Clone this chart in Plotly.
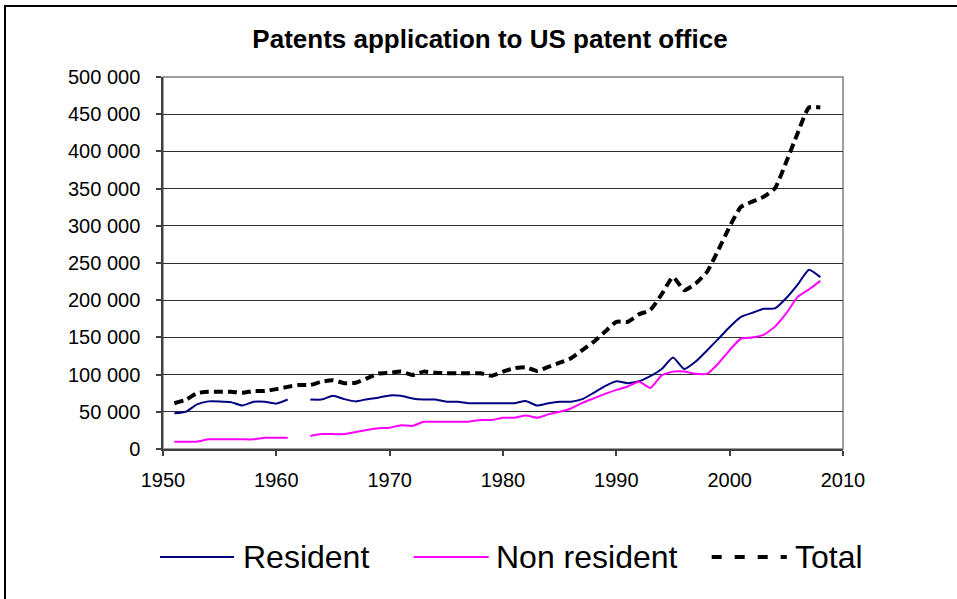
import plotly.graph_objects as go

years = list(range(1951, 2009))

resident = [48000, 50000, 60000, 64000, 64000, 63000, 58500, 63500, 63500, 61000,
            66500, None, 66500, 66500, 71500, 67000, 64000, 67000, 69000, 72000,
            71500, 68000, 66500, 66500, 63600, 63600, 61500, 61500, 61500, 61500,
            61500, 64500, 58500, 61500, 63500, 63500, 67000, 75500, 84500, 91000,
            88500, 91000, 98000, 107500, 123000, 107500, 117500, 132500, 148000, 164000,
            177500, 183000, 188500, 189000, 203000, 221000, 241000, 231000]

non_resident = [9800, 9800, 9800, 13000, 13000, 13000, 13000, 13000, 15200, 15200,
                15200, None, 17500, 20000, 20000, 20000, 22800, 25500, 27800, 28500,
                32000, 31000, 36500, 36700, 36700, 36700, 36700, 39000, 39000, 42000,
                42000, 45000, 42000, 46500, 50000, 54500, 62000, 68000, 74000, 79500,
                84000, 90500, 82000, 99000, 104000, 104000, 101000, 101000, 115000, 133000,
                148500, 150000, 153500, 164500, 182500, 204500, 214500, 226000]

total = [61500, 66000, 75000, 77000, 77000, 77000, 75500, 78000, 78000, 80500,
         83500, 86000, 86000, 90500, 92500, 88500, 89000, 95000, 101500, 102500,
         104000, 99500, 104000, 102500, 101700, 101700, 101700, 101700, 98500, 104000,
         108500, 110000, 105000, 110500, 116000, 122000, 133000, 144000, 157500, 171000,
         171000, 181000, 187000, 208000, 231000, 213500, 222500, 238000, 267500, 299000,
         325500, 332500, 339000, 350500, 386000, 424500, 459000, 459000]

series_names = ["Resident", "Non resident", "Total"]
series_colors = ["#000080", "#FF00FF", "#000000"]
series_widths = [2, 2, 4]
series_dash = ["solid", "solid", "9px,5px"]
legend_dash = ["solid", "solid", "10px,13px"]
title_text = "Patents application to US patent office"

FONT = "Arial, Liberation Sans, sans-serif"

W, H = 957, 599
L, R, T, B = 163, 114, 77, 150
PW, PH = W - L - R, H - T - B


def px_x(p):
    return (p - L) / PW


def px_y(p):
    return (H - B - p) / PH


fig = go.Figure()
for name, vals, col, wd, dsh in zip(series_names, [resident, non_resident, total],
                                     series_colors, series_widths, series_dash):
    fig.add_trace(go.Scatter(x=years, y=vals, name=name, mode="lines",
                             line=dict(color=col, width=wd, dash=dsh,
                                       shape="spline", smoothing=0.5),
                             connectgaps=False, showlegend=False))

shapes = []
# plot area border
shapes.append(dict(type="rect", xref="paper", yref="paper", x0=0, x1=1, y0=0, y1=1,
                   line=dict(color="#808080", width=1.5), layer="below"))
# outer chart border (left and top visible)
shapes.append(dict(type="path", xref="paper", yref="paper",
                   path=f"M {px_x(5)},{px_y(620)} L {px_x(5)},{px_y(6)} L {px_x(970)},{px_y(6)}",
                   line=dict(color="#000000", width=2)))

annotations = []
legend_items = [
    (160, 234, 241.5),
    (413.6, 488.7, 494.5),
    (711.7, 786.8, 794),
]
ly = 557
for (x0, x1, tx), name, col, wd, dsh in zip(legend_items, series_names, series_colors,
                                            series_widths, legend_dash):
    shapes.append(dict(type="line", xref="paper", yref="paper",
                       x0=px_x(x0), x1=px_x(x1), y0=px_y(ly), y1=px_y(ly),
                       line=dict(color=col, width=wd, dash=dsh)))
    annotations.append(dict(text=name, xref="paper", yref="paper",
                            x=px_x(tx - 1), y=px_y(ly), xanchor="left", yanchor="middle",
                            showarrow=False, font=dict(family=FONT, size=32, color="#000")))

fig.update_layout(
    width=W, height=H,
    margin=dict(l=L, r=R, t=T, b=B, autoexpand=False),
    paper_bgcolor="#FFFFFF", plot_bgcolor="#FFFFFF",
    separators=". ",
    title=dict(text=title_text, x=px_x(490), xref="paper", xanchor="center",
               y=1 - 39 / H, yref="container", yanchor="middle",
               font=dict(family=FONT, size=26, color="#000", weight="bold")),
    shapes=shapes,
    annotations=annotations,
    showlegend=False,
    font=dict(family=FONT, color="#000"),
)

fig.update_xaxes(range=[1950, 2010], dtick=10, tick0=1950, showgrid=False,
                 showline=True, linecolor="#404040", linewidth=1.5,
                 ticks="outside", ticklen=5, tickcolor="#404040", tickwidth=1.5,
                 tickfont=dict(family=FONT, size=20, color="#000"),
                 ticklabelstandoff=7, zeroline=False)
fig.update_yaxes(range=[0, 500000], dtick=50000, tick0=0, tickformat=",d",
                 showgrid=True, gridcolor="#303030", gridwidth=1,
                 showline=True, linecolor="#404040", linewidth=1.5,
                 ticks="outside", ticklen=5, tickcolor="#404040", tickwidth=1.5,
                 tickfont=dict(family=FONT, size=20, color="#000"),
                 ticklabelstandoff=12, zeroline=False)

fig.write_html("out.html", config={"displayModeBar": False},
               post_script="document.body.style.margin='0';")
